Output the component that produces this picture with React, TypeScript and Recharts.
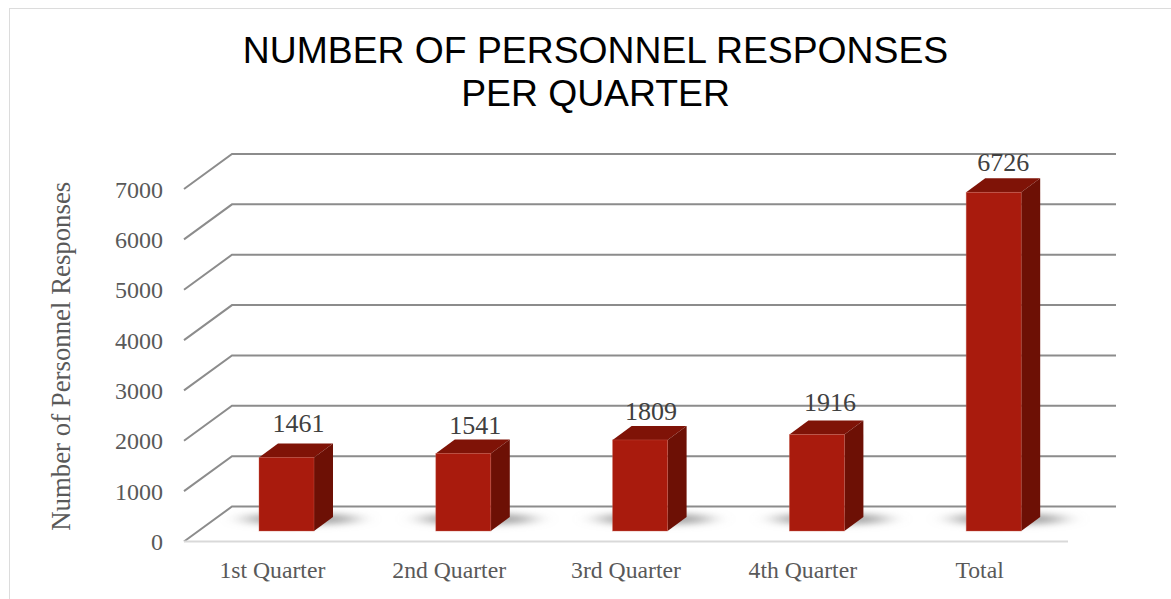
import { BarChart, Bar, XAxis, YAxis, CartesianGrid, LabelList } from "recharts";

const categories = ["1st Quarter", "2nd Quarter", "3rd Quarter", "4th Quarter", "Total"];
const responses = [1461, 1541, 1809, 1916, 6726];
const yTicks = [0, 1000, 2000, 3000, 4000, 5000, 6000, 7000];

const rows = categories.map((name, i) => ({ name, responses: responses[i] }));

// the 3d look: floor depth of the wall, and where the bars stand on that floor
const WALL_DX = 48;
const WALL_DY = -35;
const BAR_DX = 14;
const BAR_DY = -10.5;
const SIDE_DX = 19;
const SIDE_DY = -14;

const LABEL_NUDGE_X = [0, 0, -1, 1, -2.5];
const LABEL_NUDGE_Y = [-6, 0, -1, -5, -2];

const FRONT = "#a91b0d";
const TOP = "#7f1307";
const SIDE = "#6d1005";
const GRID = "#8c8c8c";
const TEXT = "#595959";
const SERIF = "'Liberation Serif', serif";

function WallLine(props: any) {
  const { x1, x2, y1 } = props;
  const backY = y1 + WALL_DY;
  return (
    <path
      d={`M${x1},${y1} L${x1 + WALL_DX},${backY} L${x2 + WALL_DX},${backY}`}
      fill="none"
      stroke={GRID}
      strokeWidth={2}
    />
  );
}

function Bar3D(props: any) {
  const { x, y, width, height } = props;
  const left = x + BAR_DX;
  const top = y + BAR_DY;
  const right = left + width;
  const bottom = top + height;
  return (
    <g>
      <ellipse
        cx={left + width / 2 + 14}
        cy={bottom - 12}
        rx={width * 1.05}
        ry={5.5}
        fill="#a0a0a0"
        filter="url(#barShadow)"
      />
      <path
        d={`M${left},${top} l${SIDE_DX},${SIDE_DY} h${width} l${-SIDE_DX},${-SIDE_DY} z`}
        fill={TOP}
      />
      <path
        d={`M${right},${top} l${SIDE_DX},${SIDE_DY} V${bottom + SIDE_DY} l${-SIDE_DX},${-SIDE_DY} z`}
        fill={SIDE}
      />
      <rect x={left} y={top} width={width} height={height} fill={FRONT} stroke="#c9604f" strokeOpacity={0.5} strokeWidth={0.75} />
    </g>
  );
}

function ValueLabel(props: any) {
  const { x, y, width, value, index } = props;
  return (
    <text
      x={x + BAR_DX + width / 2 + 12 + LABEL_NUDGE_X[index]}
      y={y + BAR_DY - 19 + LABEL_NUDGE_Y[index]}
      textAnchor="middle"
      fontFamily={SERIF}
      fontSize={26}
      fill="#404040"
    >
      {value}
    </text>
  );
}

export default function App() {
  return (
    <div style={{ position: "absolute", left: 0, top: 0, width: 1171, height: 599, background: "#fff", overflow: "hidden" }}>
      <div
        style={{
          position: "absolute",
          left: 8.5,
          top: 8,
          width: 1300,
          height: 700,
          border: "1.5px solid #dcdcdc",
        }}
      />
      <div
        style={{
          position: "absolute",
          left: 0,
          top: 29,
          width: 1191,
          textAlign: "center",
          fontFamily: "'Liberation Sans', Arial, sans-serif",
          fontSize: 37.3,
          lineHeight: "43px",
          color: "#000",
        }}
      >
        NUMBER OF PERSONNEL RESPONSES
        <br />
        PER QUARTER
      </div>
      <div style={{ position: "absolute", left: 0, top: 0 }}>
        <BarChart
          width={1171}
          height={599}
          data={rows}
          margin={{ top: 189, right: 103, bottom: 0, left: 0 }}
          barSize={55}
        >
          <defs>
            <filter id="barShadow" x="-60%" y="-200%" width="220%" height="500%">
              <feGaussianBlur stdDeviation="11 3.5" />
            </filter>
          </defs>
          <CartesianGrid vertical={false} horizontal={<WallLine />} />
          <XAxis
            dataKey="name"
            height={57.5}
            tickLine={false}
            tickMargin={14}
            axisLine={{ stroke: "#d9d9d9", strokeWidth: 2 }}
            tick={{ fontFamily: SERIF, fontSize: 23.7, fill: TEXT }}
            interval={0}
          />
          <YAxis
            width={184}
            domain={[0, 7000]}
            ticks={yTicks}
            interval={0}
            axisLine={false}
            tickLine={false}
            tickSize={0}
            tickMargin={21}
            tick={{ fontFamily: SERIF, fontSize: 24, fill: TEXT }}
            label={{
              value: "Number of Personnel Responses",
              angle: -90,
              position: "insideLeft",
              dx: 55,
              dy: -9,
              style: { fontFamily: SERIF, fontSize: 26.8, fill: TEXT, textAnchor: "middle" },
            }}
          />
          <Bar dataKey="responses" isAnimationActive={false} shape={<Bar3D />}>
            <LabelList dataKey="responses" content={<ValueLabel />} />
          </Bar>
        </BarChart>
      </div>
    </div>
  );
}
